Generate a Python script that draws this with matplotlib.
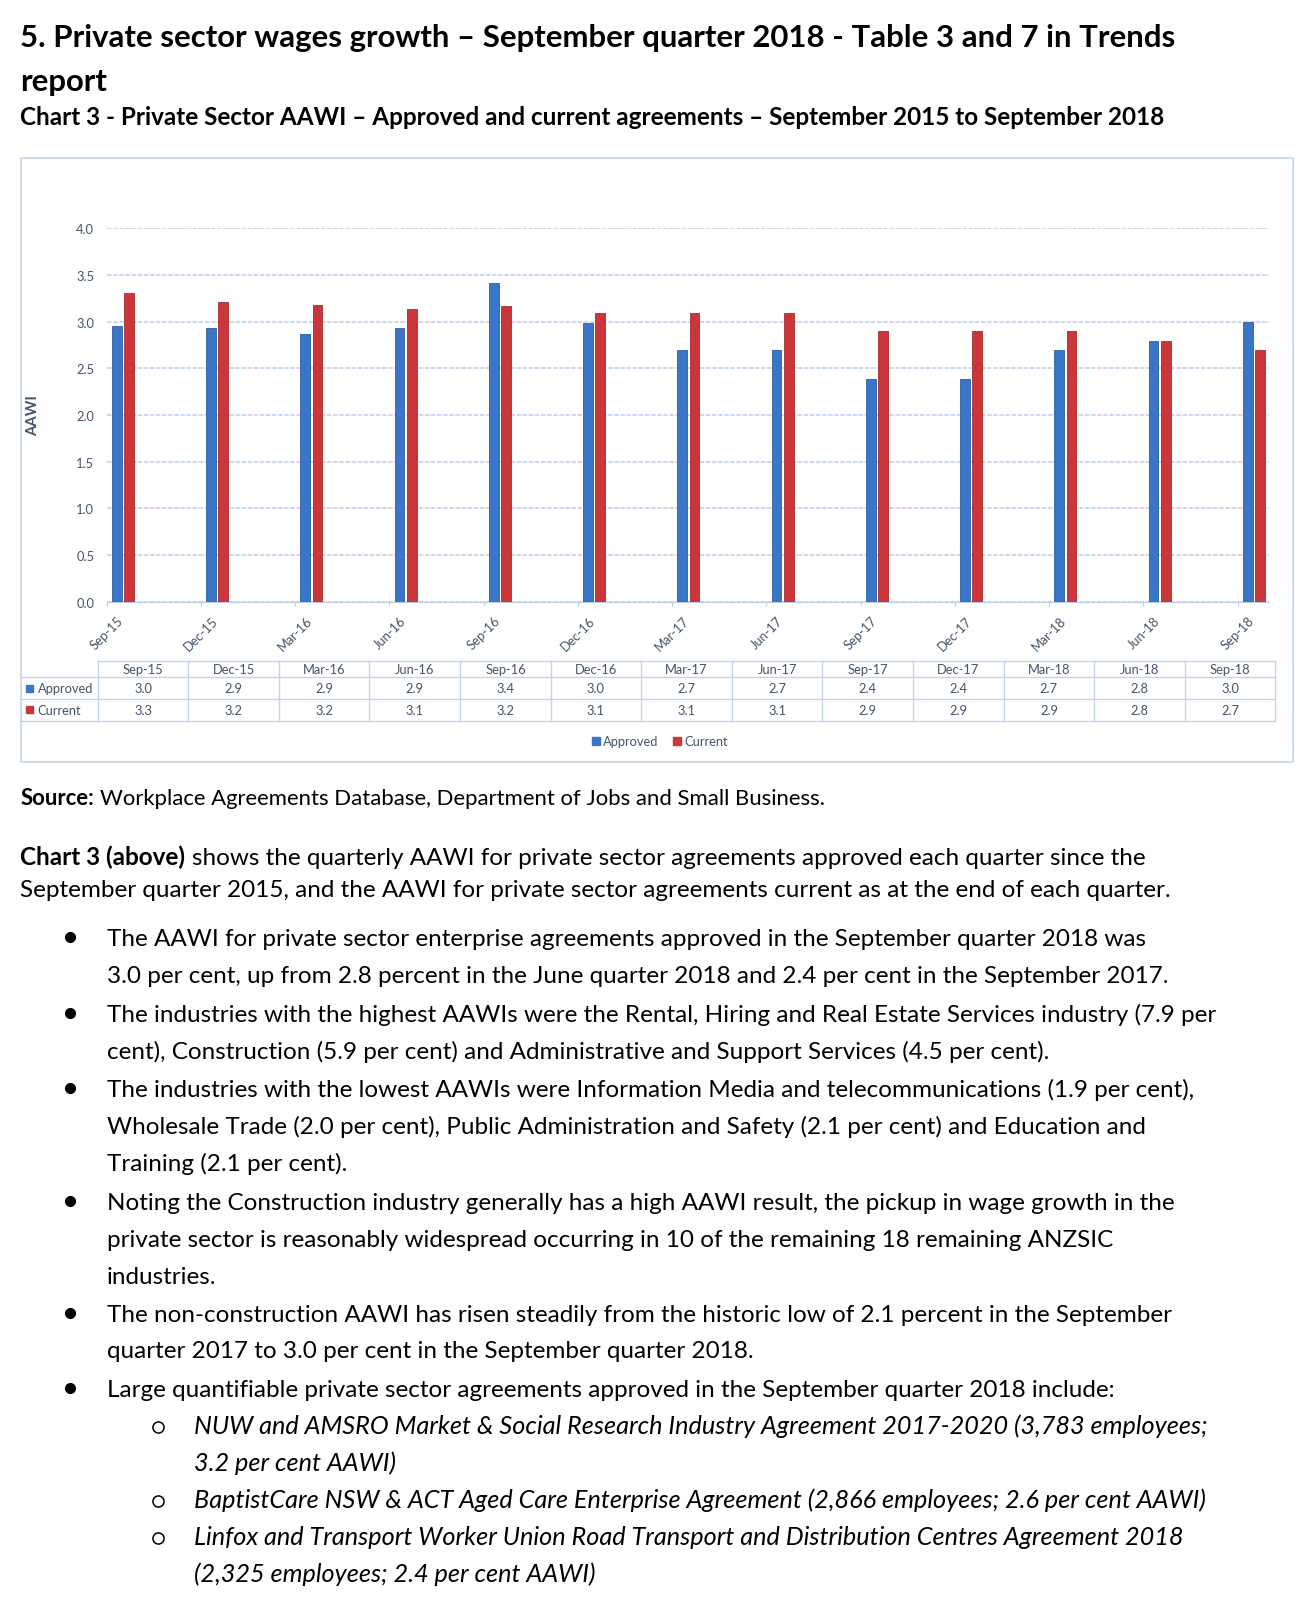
import numpy as np
import matplotlib
matplotlib.use('Agg')
import matplotlib.pyplot as plt
from matplotlib.patches import Rectangle

# chart data (bar heights, table values as printed)
quarters = ['Sep-15', 'Dec-15', 'Mar-16', 'Jun-16', 'Sep-16', 'Dec-16', 'Mar-17',
            'Jun-17', 'Sep-17', 'Dec-17', 'Mar-18', 'Jun-18', 'Sep-18']
approved = [2.95, 2.93, 2.87, 2.93, 3.41, 2.99, 2.70, 2.70, 2.39, 2.39, 2.70, 2.79, 3.00]
current = [3.31, 3.21, 3.18, 3.14, 3.17, 3.09, 3.09, 3.09, 2.90, 2.90, 2.90, 2.79, 2.70]
approved_table = ['3.0', '2.9', '2.9', '2.9', '3.4', '3.0', '2.7', '2.7', '2.4', '2.4', '2.7', '2.8', '3.0']
current_table = ['3.3', '3.2', '3.2', '3.1', '3.2', '3.1', '3.1', '3.1', '2.9', '2.9', '2.9', '2.8', '2.7']
yticks = [0.0, 0.5, 1.0, 1.5, 2.0, 2.5, 3.0, 3.5, 4.0]

# page text
title_lines = ['5. Private sector wages growth \u2013 September quarter 2018 - Table 3 and 7 in Trends', 'report']
subtitle = 'Chart 3 - Private Sector AAWI \u2013 Approved and current agreements \u2013 September 2015 to September 2018'
source_bold = 'Source:'
source_rest = 'Workplace Agreements Database, Department of Jobs and Small Business.'
para_bold = 'Chart 3 (above)'
para_lines = ['shows the quarterly AAWI for private sector agreements approved each quarter since the',
              'September quarter 2015, and the AAWI for private sector agreements current as at the end of each quarter.']
bullets = [
    ['The AAWI for private sector enterprise agreements approved in the September quarter 2018 was',
     '3.0 per cent, up from 2.8 percent in the June quarter 2018 and 2.4 per cent in the September 2017.'],
    ['The industries with the highest AAWIs were the Rental, Hiring and Real Estate Services industry (7.9 per',
     'cent), Construction (5.9 per cent) and Administrative and Support Services (4.5 per cent).'],
    ['The industries with the lowest AAWIs were Information Media and telecommunications (1.9 per cent),',
     'Wholesale Trade (2.0 per cent), Public Administration and Safety (2.1 per cent) and Education and',
     'Training (2.1 per cent).'],
    ['Noting the Construction industry generally has a high AAWI result, the pickup in wage growth in the',
     'private sector is reasonably widespread occurring in 10 of the remaining 18 remaining ANZSIC',
     'industries.'],
    ['The non-construction AAWI has risen steadily from the historic low of 2.1 percent in the September',
     'quarter 2017 to 3.0 per cent in the September quarter 2018.'],
    ['Large quantifiable private sector agreements approved in the September quarter 2018 include:'],
]
sub_bullets = [
    ['NUW and AMSRO Market & Social Research Industry Agreement 2017-2020 (3,783 employees;',
     '3.2 per cent AAWI)'],
    ['BaptistCare NSW & ACT Aged Care Enterprise Agreement (2,866 employees; 2.6 per cent AAWI)'],
    ['Linfox and Transport Worker Union Road Transport and Distribution Centres Agreement 2018',
     '(2,325 employees; 2.4 per cent AAWI)'],
]

FONT = 'Lato'
plt.rcParams['font.family'] = [FONT, 'DejaVu Sans']
BLUE = '#3a76c8'
RED = '#cb363a'
CHART_TXT = '#44546a'
GRID = '#bccde8'

W, H = 1314, 1608
fig = plt.figure(figsize=(W / 100, H / 100), dpi=100)
fig.patch.set_facecolor('white')
page = fig.add_axes([0, 0, 1, 1])
page.set_xlim(0, W)
page.set_ylim(H, 0)
page.axis('off')
renderer = fig.canvas.get_renderer()


def text_width(s, size, **kw):
    t = page.text(0, 0, s, fontsize=size, **kw)
    w = t.get_window_extent(renderer).width
    t.remove()
    return w


def fit(s, target, **kw):
    return 20 * target / text_width(s, 20, **kw)


def space_width(size, **kw):
    return text_width('x x', size, **kw) - text_width('xx', size, **kw)


# font sizes fitted to line widths in the reference
title_size = fit(title_lines[0], 1152, fontweight='bold')
sub_size = fit(subtitle, 1146, fontweight='bold')
body_size = fit(bullets[0][0], 1043)
src_size = body_size * 0.91
ital_size = fit(sub_bullets[0][0], 1012, style='italic')
chart_size = fit('Sep-15', 41)

# heading
page.text(20.5, 47.5, title_lines[0], fontsize=title_size, fontweight='bold', va='baseline')
page.text(20.5, 91.3, title_lines[1], fontsize=title_size, fontweight='bold', va='baseline')
page.text(20.5, 125.3, subtitle, fontsize=sub_size, fontweight='bold', va='baseline')

# source and paragraph with bold lead-ins
x0 = 20.5
bw = text_width(source_bold, src_size, fontweight='bold')
page.text(x0, 805, source_bold, fontsize=src_size, fontweight='bold', va='baseline')
page.text(x0 + bw + space_width(src_size), 805, source_rest, fontsize=src_size, va='baseline')

bw = text_width(para_bold, body_size, fontweight='bold')
page.text(x0, 865.5, para_bold, fontsize=body_size, fontweight='bold', va='baseline')
page.text(x0 + bw + space_width(body_size), 865.5, para_lines[0], fontsize=body_size, va='baseline')
page.text(x0, 897.5, para_lines[1], fontsize=body_size, va='baseline')

# bullets
bullet_baselines = [[946, 983], [1022, 1059], [1097, 1134, 1171],
                    [1210, 1247, 1284], [1322.5, 1358.5], [1397.5]]
for lines, bls in zip(bullets, bullet_baselines):
    page.plot(70, bls[0] - 8.5, 'o', ms=7, color='black')
    for s, b in zip(lines, bls):
        page.text(106.7, b, s, fontsize=body_size, va='baseline')

sub_baselines = [[1434.3, 1471], [1508.3], [1545, 1581.7]]
for lines, bls in zip(sub_bullets, sub_baselines):
    page.plot(157.5, bls[0] - 6.5, 'o', ms=8, mfc='white', mec='black', mew=1.1)
    for s, b in zip(lines, bls):
        page.text(193.9, b, s, fontsize=ital_size, style='italic', va='baseline')

# chart frame
page.add_patch(Rectangle((20.7, 159), 1272.3, 604, fill=False, ec='#c5d5ea', lw=1.2))

# bar chart
px0, px1, py0, py1 = 106.7, 1269.0, 229.3, 602.7
cat_w = 94.25
ax = fig.add_axes([px0 / W, 1 - py1 / H, (px1 - px0) / W, (py1 - py0) / H])
ax.set_facecolor('none')
idx = np.arange(len(quarters))
ax.bar(idx + 0.055, approved, width=0.103, align='edge', color=BLUE, ec='#2c5fa3', lw=0.6, zorder=3)
ax.bar(idx + 0.184, current, width=0.105, align='edge', color=RED, ec='#a52a2e', lw=0.6, zorder=3)
ax.set_xlim(0, (px1 - px0) / cat_w)
ax.set_ylim(0, 4.0)
ax.set_yticks(yticks)
ax.set_yticklabels([f'{v:.1f}' for v in yticks], fontsize=chart_size, color=CHART_TXT)
ax.yaxis.grid(True, color=GRID, linestyle=(0, (3, 1)), lw=1.1)
ax.set_axisbelow(True)
ax.set_xticks(idx)
ax.set_xticklabels(quarters, rotation=45, ha='center', fontsize=chart_size, color=CHART_TXT)
ax.tick_params(axis='y', length=0, pad=9)
ax.tick_params(axis='x', length=3, color=GRID, pad=6)
for side in ['left', 'right', 'top']:
    ax.spines[side].set_visible(False)
ax.spines['bottom'].set_color(GRID)

page.text(33, 416, 'AAWI', rotation=90, fontsize=chart_size * 1.15, fontweight='bold',
          color=CHART_TXT, ha='center', va='center')

# data table below the chart
tx0, col_w = 97.7, 90.59
tx1 = tx0 + col_w * len(quarters)
ry = [661.7, 678.3, 700.0, 721.7]
lc = '#c3d3ea'
page.plot([tx0, tx1], [ry[0], ry[0]], color=lc, lw=1)
for y in ry[1:]:
    page.plot([20.7, tx1], [y, y], color=lc, lw=1)
for k in range(len(quarters) + 1):
    xk = tx0 + k * col_w
    page.plot([xk, xk], [ry[0], ry[3]], color=lc, lw=1)
for k, q in enumerate(quarters):
    cx = tx0 + (k + 0.5) * col_w
    page.text(cx, (ry[0] + ry[1]) / 2, q, fontsize=chart_size, color=CHART_TXT, ha='center', va='center')
    page.text(cx, (ry[1] + ry[2]) / 2, approved_table[k], fontsize=chart_size, color=CHART_TXT, ha='center', va='center')
    page.text(cx, (ry[2] + ry[3]) / 2, current_table[k], fontsize=chart_size, color=CHART_TXT, ha='center', va='center')
for (name, col), r in zip([('Approved', BLUE), ('Current', RED)], [1, 2]):
    cy = (ry[r] + ry[r + 1]) / 2
    page.add_patch(Rectangle((26, cy - 3.5), 7, 7, color=col))
    page.text(37.7, cy, name, fontsize=chart_size, color=CHART_TXT, va='center')

# legend
ly = 741.7
page.add_patch(Rectangle((592, ly - 4), 8, 8, color=BLUE))
page.text(603, ly, 'Approved', fontsize=chart_size, color=CHART_TXT, va='center')
page.add_patch(Rectangle((673.3, ly - 4), 8, 8, color=RED))
page.text(684, ly, 'Current', fontsize=chart_size, color=CHART_TXT, va='center')

fig.savefig('out.png', dpi=100, facecolor='white')
